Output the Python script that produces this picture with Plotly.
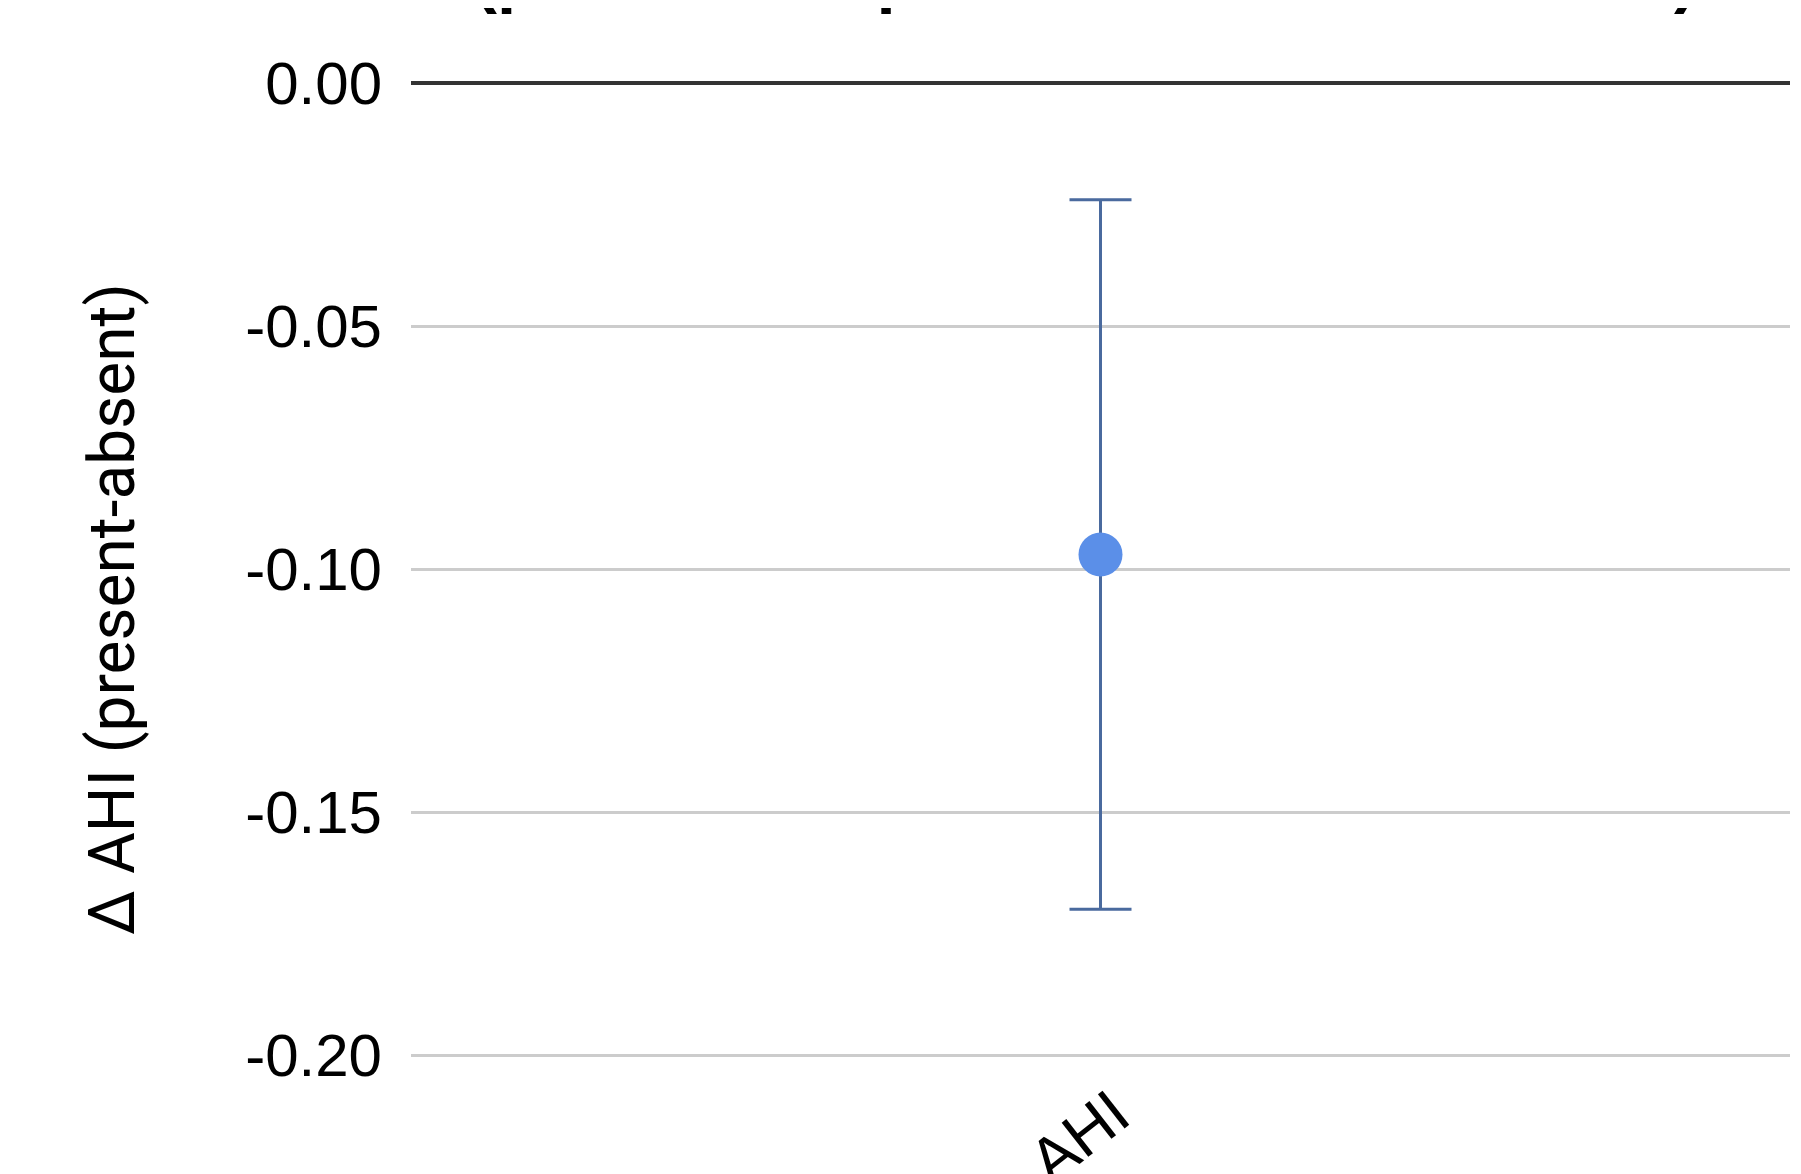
import plotly.graph_objects as go

categories = ["AHI"]
mean_delta = [-0.097]
ci_upper = [-0.024]
ci_lower = [-0.170]
y_ticks = [0.00, -0.05, -0.10, -0.15, -0.20]
y_tick_labels = ["0.00", "-0.05", "-0.10", "-0.15", "-0.20"]
y_title = "Δ AHI (present-absent)"
chart_title = "(pooled all apnea index in all studies)"

err_plus = [u - m for u, m in zip(ci_upper, mean_delta)]
err_minus = [m - l for m, l in zip(mean_delta, ci_lower)]

# page has an 8px body margin; size the figure to compensate
W, H = 1793, 1166
mt, mb, ml, mr = 75, 116, 403, 11
plot_h = H - mt - mb
plot_w = W - ml - mr

fig = go.Figure()
fig.add_trace(go.Scatter(
    x=categories, y=mean_delta, mode="markers",
    marker=dict(size=44, color="#5b8fe8", line=dict(width=0)),
    error_y=dict(type="data", symmetric=False, array=err_plus, arrayminus=err_minus,
                 color="#4a6a9e", thickness=3, width=31),
    showlegend=False,
))

fig.update_layout(
    width=W, height=H,
    margin=dict(t=mt, b=mb, l=ml, r=mr, pad=0),
    paper_bgcolor="white", plot_bgcolor="white",
    font=dict(family="Liberation Sans, Arial, sans-serif", color="#000000"),
    xaxis=dict(
        showgrid=False, zeroline=False, showline=False, ticks="",
        tickangle=-38, tickfont=dict(size=63, family="Liberation Sans, Arial"),
        ticklabelstandoff=6, ticklabelshift=14, automargin=False,
    ),
    yaxis=dict(
        range=[-0.2006, 0.0], tickvals=y_ticks, ticktext=y_tick_labels,
        showgrid=True, gridcolor="#cccccc", gridwidth=2.5,
        zeroline=True, zerolinecolor="#333333", zerolinewidth=3.5,
        showline=False, ticks="", automargin=False,
        tickfont=dict(size=60, family="Liberation Sans, Arial"),
        ticklabelstandoff=28,
    ),
)

# y-axis title (placed explicitly to match the reference offset)
fig.add_annotation(
    text=y_title, textangle=-90,
    xref="paper", yref="paper",
    x=(104 - ml) / plot_w, y=1 - (601 - mt) / plot_h,
    xanchor="center", yanchor="middle", showarrow=False,
    font=dict(size=64, family="Roboto, Liberation Sans", color="#000000"),
)

# title, mostly above the visible page
fig.add_annotation(
    text="<b>" + chart_title + "</b>",
    xref="paper", yref="paper", x=(1085 - 8 - ml) / plot_w, y=1 + (mt - 9) / plot_h,
    xanchor="center", yanchor="bottom", showarrow=False,
    font=dict(size=69, family="Liberation Sans, Arial", color="#000000"),
)

fig.write_html("out.html")
